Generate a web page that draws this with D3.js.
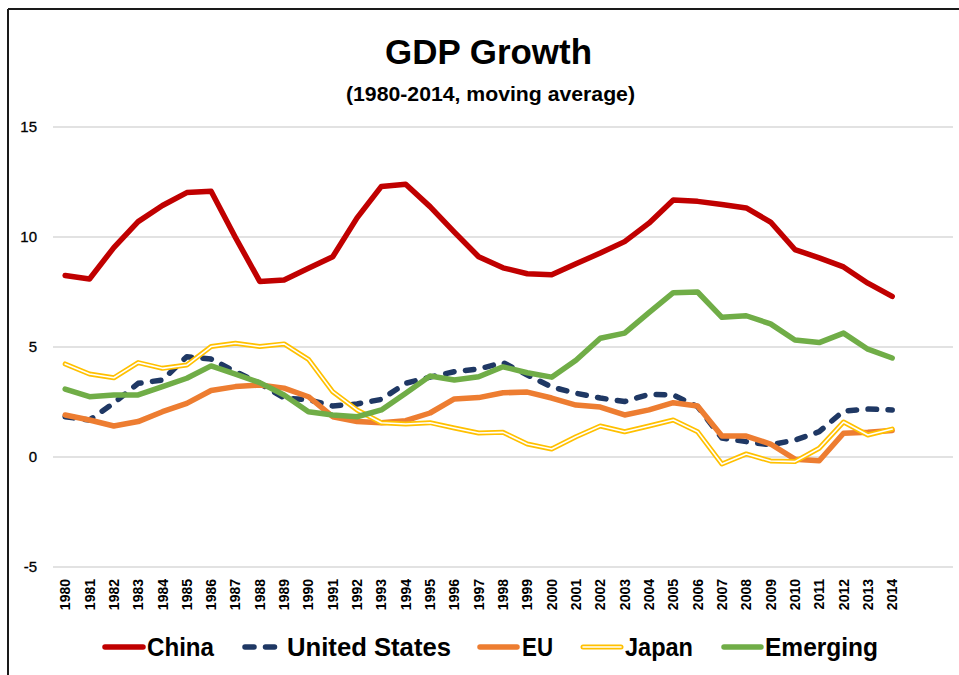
<!DOCTYPE html>
<html>
<head>
<meta charset="utf-8">
<script src="https://cdn.jsdelivr.net/npm/d3@7/dist/d3.min.js"></script>
<style>
  html, body { margin: 0; padding: 0; background: #fff; }
  svg { display: block; }
  text { font-family: "Liberation Sans", Arial, sans-serif; }
</style>
</head>
<body>
<svg id="chart" width="959" height="675"></svg>
<script>
// ---- data ----
const years = d3.range(1980, 2015).map(String);
const slots = years.concat(["_a", "_b"]); // two empty category slots at the right
const yTicks = [-5, 0, 5, 10, 15];

const china = [8.25, 8.09, 9.52, 10.7, 11.43, 12.02, 12.08, 9.98, 7.98, 8.05, 8.58, 9.1, 10.87, 12.3, 12.4, 11.38, 10.22, 9.1, 8.6, 8.33,
               8.28, 8.78, 9.27, 9.79, 10.63, 11.68, 11.62, 11.48, 11.32, 10.68, 9.43, 9.05, 8.64, 7.9, 7.3];
const unitedStates = [1.83, 1.68, 2.45, 3.35, 3.5, 4.56, 4.45, 3.88, 3.35, 2.68, 2.6, 2.32, 2.41, 2.62, 3.35, 3.63, 3.88, 4.0, 4.29, 3.73,
                      3.18, 2.9, 2.68, 2.52, 2.85, 2.82, 2.29, 0.86, 0.7, 0.55, 0.77, 1.15, 2.09, 2.18, 2.14];
const eu = [1.91, 1.68, 1.41, 1.61, 2.06, 2.44, 3.02, 3.2, 3.27, 3.13, 2.74, 1.83, 1.61, 1.56, 1.65, 2.0, 2.64, 2.7, 2.92, 2.95,
            2.68, 2.36, 2.27, 1.91, 2.14, 2.47, 2.32, 0.95, 0.95, 0.59, -0.1, -0.17, 1.08, 1.12, 1.2];
const japan = [4.23, 3.77, 3.6, 4.29, 4.03, 4.18, 5.02, 5.17, 5.02, 5.14, 4.44, 2.97, 2.14, 1.56, 1.5, 1.56, 1.32, 1.09, 1.12, 0.59,
               0.36, 0.92, 1.41, 1.15, 1.41, 1.68, 1.15, -0.32, 0.14, -0.18, -0.21, 0.4, 1.59, 1.0, 1.27];
const emerging = [3.09, 2.74, 2.82, 2.82, 3.2, 3.58, 4.14, 3.77, 3.38, 2.82, 2.06, 1.91, 1.83, 2.14, 2.9, 3.68, 3.5, 3.65, 4.1, 3.83,
                  3.63, 4.4, 5.4, 5.63, 6.56, 7.47, 7.5, 6.35, 6.42, 6.05, 5.32, 5.2, 5.63, 4.9, 4.5];

const seriesNames = ["China", "United States", "EU", "Japan", "Emerging"];
const seriesValues = [china, unitedStates, eu, japan, emerging];
const seriesColors = ["#C00000", "#1F3864", "#ED7D31", "#FFC000", "#70AD47"];

// ---- drawing ----
const svg = d3.select("#chart");

const x = d3.scaleBand().domain(slots).range([53, 953]);
const y = d3.scaleLinear().domain([-5, 15]).range([567, 127]);

// frame (partial border like the source image)
svg.append("line").attr("x1", 8).attr("x2", 959).attr("y1", 9).attr("y2", 9)
  .attr("stroke", "#1a1a1a").attr("stroke-width", 2);
svg.append("line").attr("x1", 8).attr("x2", 8).attr("y1", 9).attr("y2", 675)
  .attr("stroke", "#1a1a1a").attr("stroke-width", 2);

// title
svg.append("text").attr("x", 488.5).attr("y", 64).attr("text-anchor", "middle")
  .attr("font-size", 35).attr("font-weight", "bold").attr("fill", "#000")
  .attr("textLength", 207).attr("lengthAdjust", "spacingAndGlyphs")
  .text("GDP Growth");
svg.append("text").attr("x", 490.5).attr("y", 101).attr("text-anchor", "middle")
  .attr("font-size", 20).attr("font-weight", "bold").attr("fill", "#000")
  .attr("textLength", 289).attr("lengthAdjust", "spacingAndGlyphs")
  .text("(1980-2014, moving average)");

// gridlines
svg.append("g").selectAll("line").data(yTicks).join("line")
  .attr("x1", 53).attr("x2", 953)
  .attr("y1", d => y(d)).attr("y2", d => y(d))
  .attr("stroke", "#D9D9D9").attr("stroke-width", 1.5);

// y axis
const yAxis = svg.append("g").attr("transform", "translate(53,0)")
  .call(d3.axisLeft(y).tickValues(yTicks).tickSize(0).tickPadding(16).tickFormat(d => String(d)));
yAxis.select(".domain").remove();
yAxis.selectAll("text").attr("font-size", 15).attr("fill", "#000")
  .attr("stroke", "#000").attr("stroke-width", 0.3)
  .attr("font-family", "Liberation Sans, Arial, sans-serif");

// x axis (rotated labels)
const xAxis = svg.append("g").attr("transform", "translate(0,567)")
  .call(d3.axisBottom(x).tickValues(years).tickSize(0));
xAxis.select(".domain").remove();
xAxis.selectAll("text")
  .attr("font-size", 14).attr("font-weight", "bold").attr("fill", "#000")
  .attr("font-family", "Liberation Sans, Arial, sans-serif")
  .attr("text-anchor", "end")
  .attr("transform", "rotate(-90)")
  .attr("x", -12).attr("y", 0).attr("dy", "0.36em");

// lines
const line = d3.line()
  .x((d, i) => x(years[i]) + x.bandwidth() / 2)
  .y(d => y(d));

const plot = svg.append("g");
seriesValues.forEach((vals, k) => {
  const name = seriesNames[k];
  const p = plot.append("path").datum(vals)
    .attr("d", line).attr("fill", "none")
    .attr("stroke", seriesColors[k])
    .attr("stroke-linejoin", "round").attr("stroke-linecap", "round")
    .attr("stroke-width", name === "Japan" ? 5 : 5.5);
  if (name === "United States") p.attr("stroke-dasharray", "8.5,11.5").attr("stroke-width", 5.5);
  if (name === "Japan") {
    plot.append("path").datum(vals).attr("d", line).attr("fill", "none")
      .attr("stroke", "#fff").attr("stroke-width", 1.6)
      .attr("stroke-linejoin", "round").attr("stroke-linecap", "round");
  }
});

// legend
const legendItems = [
  { line: [105, 143], tx: 147, tw: 67 },
  { line: [245, 278], tx: 287, tw: 164 },
  { line: [480, 517], tx: 522, tw: 31 },
  { line: [583, 621], tx: 625, tw: 68 },
  { line: [724, 761], tx: 765, tw: 113 }
];
const lg = svg.append("g");
legendItems.forEach((it, k) => {
  const name = seriesNames[k];
  const l = lg.append("line").attr("x1", it.line[0]).attr("x2", it.line[1])
    .attr("y1", 647).attr("y2", 647)
    .attr("stroke", seriesColors[k]).attr("stroke-width", 5.5)
    .attr("stroke-linecap", "round");
  if (name === "United States") l.attr("stroke-dasharray", "9,11.5");
  if (name === "Japan") {
    l.attr("stroke-width", 5);
    lg.append("line").attr("x1", it.line[0]).attr("x2", it.line[1])
      .attr("y1", 647).attr("y2", 647)
      .attr("stroke", "#fff").attr("stroke-width", 1.6).attr("stroke-linecap", "round");
  }
  lg.append("text").attr("x", it.tx).attr("y", 655.5)
    .attr("font-size", 25).attr("font-weight", "bold").attr("fill", "#000")
    .attr("textLength", it.tw).attr("lengthAdjust", "spacingAndGlyphs")
    .text(name);
});
</script>
</body>
</html>
